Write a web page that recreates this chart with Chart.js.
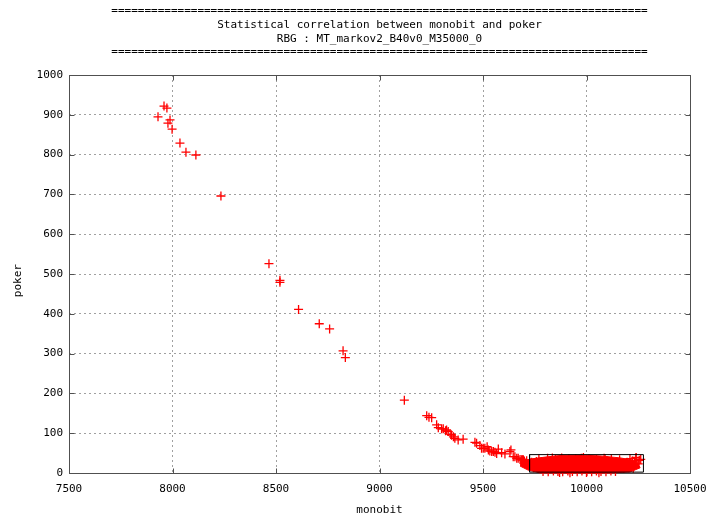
<!DOCTYPE html>
<html>
<head>
<meta charset="utf-8">
<script src="https://cdn.jsdelivr.net/npm/chart.js@4"></script>
<style>
    html, body { margin: 0; padding: 0; background: #ffffff; }
    #wrap { width: 707px; height: 519px; }
</style>
</head>
<body>
<div id="wrap"><canvas id="grafico"></canvas></div>
<script>
// líneas del título (gnuplot)
const tituloLineas = [
    '='.repeat(81),
    'Statistical correlation between monobit and poker',
    'RBG : MT_markov2_B40v0_M35000_0',
    '='.repeat(81)
];

const xTicks = [7500, 8000, 8500, 9000, 9500, 10000, 10500];
const yTicks = [0, 100, 200, 300, 400, 500, 600, 700, 800, 900, 1000];

// puntos sueltos (cola de la distribución)
const monobitCola = [7930, 7959, 7973, 7978, 7988, 7998, 8036, 8065, 8113, 8234,
    8466, 8519, 8519, 8609, 8709, 8759, 8824, 8835, 9120, 9228, 9239, 9252, 9276, 9284,
    9300, 9308, 9319, 9324, 9332, 9345, 9348, 9357, 9364, 9380, 9404, 9461, 9469, 9485,
    9493, 9501, 9509, 9520, 9526, 9533, 9542, 9550, 9558, 9566, 9574, 9590, 9606, 9630,
    9635, 9646, 9654, 9663, 9670, 9679, 9687, 9695, 9711, 9727];
const pokerCola = [895, 922, 917, 879, 887, 864, 829, 806, 799, 696,
    526, 484, 479, 411, 375, 362, 307, 290, 183, 144, 140, 139, 121, 114,
    111, 111, 106, 108, 104, 97, 95, 91, 87, 83, 85, 77, 75, 69,
    62, 62, 62, 66, 58, 55, 54, 54, 52, 49, 60, 51, 48, 54,
    58, 41, 41, 37, 37, 34, 33, 33, 31, 26];

// nube de puntos dentro del rectángulo FIPS
const monobitNube = [
    9790, 9815, 9840, 9862, 9885, 9910, 9932, 9955, 9978, 10002, 10025, 10048, 10070, 10094, 10118, 10140,
    9745, 9768, 9790, 9812, 9836, 9858, 9880, 9905, 9928, 9950, 9972, 9996, 10020, 10042, 10066, 10088, 10110, 10134, 10156, 10180, 10204, 10226,
    9722, 9745, 9766, 9790, 9814, 9836, 9860, 9883, 9906, 9930, 9952, 9975, 9998, 10020, 10044, 10066, 10090, 10112, 10136, 10158, 10182, 10205, 10230, 10250,
    9735, 9758, 9782, 9804, 9828, 9850, 9873, 9896, 9920, 9942, 9965, 9988, 10010, 10034, 10056, 10080, 10102, 10126, 10150, 10172, 10196, 10222,
    9770, 9812, 9850, 9880, 9915, 9948, 9985, 10012, 10048, 10085, 10120, 10160, 10210, 10240,
    9700, 9690, 10255, 10262, 10238, 10232, 9705, 9835, 9975, 10090, 9920, 10000, 9870, 10060
];
const pokerNube = [
    4, 3, 5, 4, 3, 5, 4, 3, 5, 4, 3, 5, 4, 3, 5, 4,
    13, 11, 12, 14, 11, 13, 12, 10, 14, 12, 11, 13, 12, 10, 14, 12, 11, 13, 12, 11, 13, 12,
    21, 19, 22, 20, 18, 21, 20, 22, 19, 21, 20, 18, 22, 20, 19, 21, 20, 18, 22, 20, 19, 21, 18, 23,
    27, 29, 28, 26, 30, 28, 27, 29, 28, 26, 30, 28, 27, 29, 28, 26, 30, 28, 27, 25, 27, 30,
    35, 37, 34, 38, 36, 35, 39, 36, 34, 37, 35, 33, 36, 39,
    30, 33, 32, 34, 38, 28, 25, 38, 37, 36, 0.5, 1, 1.5, 0.8
];

// contorno de la zona donde los puntos se solapan del todo
const contornoMonobit = [9679, 9727, 9800, 9872, 9969, 10065, 10162, 10220, 10249, 10259, 10210, 10114, 9969, 9848, 9776, 9717, 9679];
const contornoPoker = [28, 35, 40, 44, 45, 43, 38, 33, 25, 13, 2.5, 0, 0, 0, 0, 7.5, 17.5];

// rectángulo de los límites FIPS 140-2
const cajaMonobit = [9725, 10275, 10275, 9725, 9725];
const cajaPoker = [2.16, 2.16, 46.17, 46.17, 2.16];

const fuente = { family: '"DejaVu Sans Mono", "Liberation Mono", monospace', size: 11 };

const puntos = monobitCola.map((x, i) => ({ x: x, y: pokerCola[i] }))
    .concat(monobitNube.map((x, i) => ({ x: x, y: pokerNube[i] })));
const contorno = contornoMonobit.map((x, i) => ({ x: x, y: contornoPoker[i] }));
const caja = cajaMonobit.map((x, i) => ({ x: x, y: cajaPoker[i] }));

// título, marco y marcas hacia dentro como en gnuplot
const marcoGnuplot = {
    id: 'marcoGnuplot',
    beforeDatasetsDraw(chart) {
        const { ctx, chartArea: a, scales } = chart;
        const l = Math.round(a.left) + 0.5, r = Math.round(a.right) + 0.5;
        const t = Math.round(a.top) + 0.5, b = Math.round(a.bottom) + 0.5;
        ctx.save();
        ctx.strokeStyle = '#505050';
        ctx.lineWidth = 1;
        ctx.strokeRect(l, t, r - l, b - t);
        ctx.beginPath();
        xTicks.forEach(v => {
            const px = Math.round(scales.x.getPixelForValue(v)) + 0.5;
            ctx.moveTo(px, b); ctx.lineTo(px, b - 5);
            ctx.moveTo(px, t); ctx.lineTo(px, t + 5);
        });
        yTicks.forEach(v => {
            const py = Math.round(scales.y.getPixelForValue(v)) + 0.5;
            ctx.moveTo(l, py); ctx.lineTo(l + 5, py);
            ctx.moveTo(r, py); ctx.lineTo(r - 5, py);
        });
        ctx.stroke();
        ctx.restore();
    },
    afterDraw(chart) {
        const { ctx, chartArea: a } = chart;
        const cx = (a.left + a.right) / 2;
        ctx.save();
        ctx.font = '11px ' + fuente.family;
        ctx.fillStyle = '#000000';
        ctx.textAlign = 'center';
        ctx.textBaseline = 'middle';
        [11, 25, 39, 52].forEach((y, i) => ctx.fillText(tituloLineas[i], cx, y));
        ctx.restore();
    }
};

new Chart(document.getElementById('grafico'), {
    type: 'scatter',
    data: {
        datasets: [{
            label: 'caja',
            data: caja,
            showLine: true,
            borderColor: '#000000',
            borderWidth: 1,
            pointRadius: 0,
            fill: false,
            order: 0
        }, {
            label: 'poker',
            data: puntos,
            pointStyle: 'cross',
            pointRadius: 4.5,
            borderColor: '#ff0000',
            backgroundColor: '#ff0000',
            pointBorderWidth: 1.3,
            clip: false,
            order: 1
        }, {
            label: 'nube',
            data: contorno,
            showLine: true,
            fill: 'shape',
            borderColor: '#ff0000',
            backgroundColor: '#ff0000',
            borderWidth: 1,
            pointRadius: 0,
            clip: false,
            order: 2
        }]
    },
    options: {
        responsive: true,
        maintainAspectRatio: false,
        animation: false,
        events: [],
        layout: {
            padding: { top: 75, right: 17, left: 0, bottom: 0 }
        },
        plugins: {
            legend: { display: false },
            title: { display: false },
            tooltip: { enabled: false }
        },
        scales: {
            x: {
                type: 'linear',
                min: 7500,
                max: 10500,
                afterBuildTicks: s => { s.ticks = xTicks.map(v => ({ value: v })); },
                afterFit: s => { s.height = 46; s.paddingLeft = 0; s.paddingRight = 0; },
                ticks: { font: fuente, color: '#000000', padding: 10, maxRotation: 0, callback: v => String(v) },
                grid: { color: '#a0a0a0', lineWidth: 1, drawTicks: false },
                border: { display: false, dash: [2, 3] },
                title: { display: true, text: 'monobit', font: fuente, color: '#000000', padding: { top: 0, bottom: 2 } }
            },
            y: {
                type: 'linear',
                min: 0,
                max: 1000,
                afterBuildTicks: s => { s.ticks = yTicks.map(v => ({ value: v })); },
                afterFit: s => { s.width = 69; s.paddingTop = 0; s.paddingBottom = 0; },
                ticks: { font: fuente, color: '#000000', padding: 6, callback: v => String(v) },
                grid: { color: '#a0a0a0', lineWidth: 1, drawTicks: false },
                border: { display: false, dash: [2, 3] },
                title: { display: true, text: 'poker  ', font: fuente, color: '#000000', padding: { top: 12, bottom: 0 } }
            }
        }
    },
    plugins: [marcoGnuplot]
});
</script>
</body>
</html>
